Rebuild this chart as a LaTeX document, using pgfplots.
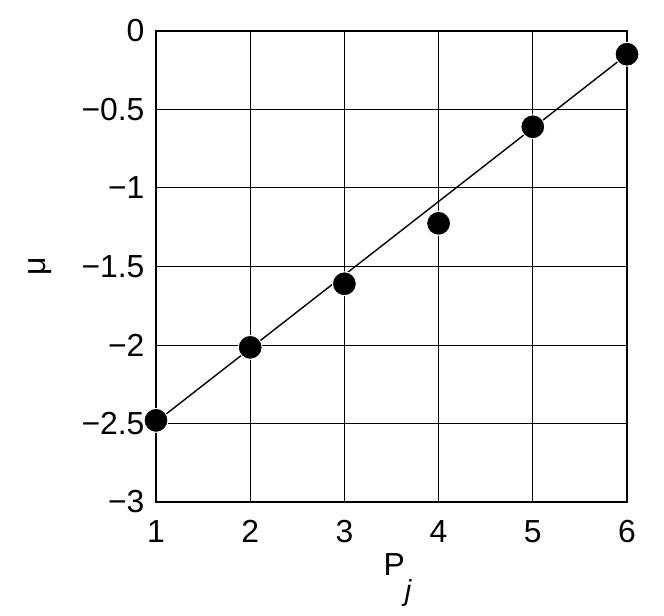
\documentclass[border=0pt]{standalone}
\usepackage{fontspec}
\setmainfont{Liberation Sans}
\usepackage{pgfplots}
\pgfplotsset{compat=1.18}
\begin{document}
\begin{tikzpicture}
\begin{axis}[
  width=471bp, height=471bp, scale only axis,
  xmin=1, xmax=6, ymin=-3, ymax=0,
  xtick={1,2,3,4,5,6},
  ytick={-3,-2.5,-2,-1.5,-1,-0.5,0},
  yticklabels={−3,−2.5,−2,−1.5,−1,−0.5,0},
  grid=major,
  major grid style={black, line width=1pt},
  axis line style={black, line width=1.2pt},
  tick style={black},
  major tick length=0pt,
  ticklabel style={font=\fontsize{32}{36}\selectfont},
  xticklabel style={anchor=north, yshift=-15bp},
  yticklabel style={anchor=east, xshift=-8bp},
  /pgf/number format/assume math mode=true,
  xlabel={P\raisebox{-25bp}{\fontsize{29}{33}\selectfont\itshape j}},
  ylabel={μ},
  label style={font=\fontsize{32}{36}\selectfont},
  ylabel style={at={(rel axis cs:-0.245,0.5)}, anchor=center},
  xlabel style={at={(rel axis cs:0.5,0)}, anchor=base, yshift=-73bp, xshift=6bp},
  clip=false,
]
\addplot[black, line width=1.4pt] coordinates {(1,-2.49) (6,-0.15)};
\addplot[only marks, mark=*, mark size=12pt,
  mark options={fill=black, draw=white, line width=1pt}] coordinates {
  (1,-2.48) (2,-2.015) (3,-1.61) (4,-1.225) (5,-0.61) (6,-0.148)
};
\end{axis}
\path (current axis.south west) ++(-156bp,-114bp) rectangle ++(664bp,616bp);
\end{tikzpicture}
\end{document}
